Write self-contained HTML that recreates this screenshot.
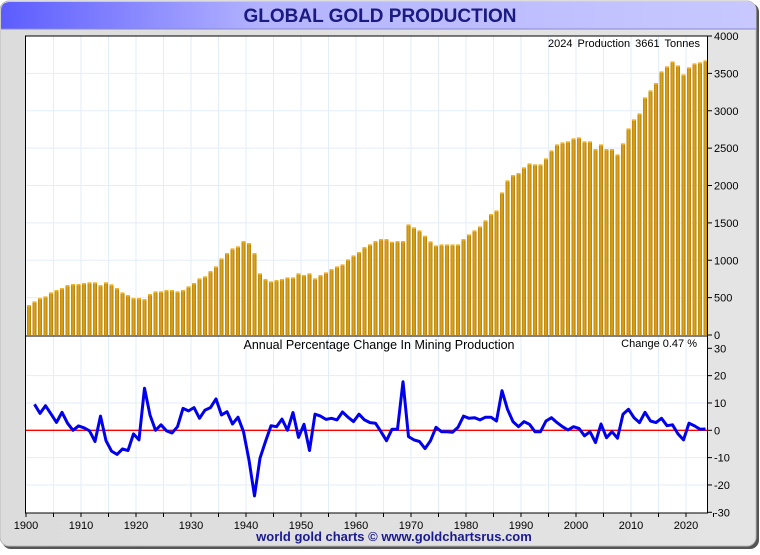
<!DOCTYPE html>
<html><head><meta charset="utf-8"><style>
body{margin:0;background:#fff;width:760px;height:550px;overflow:hidden;font-family:"Liberation Sans",sans-serif}
</style></head><body>
<svg id="chart" width="760" height="550" xmlns="http://www.w3.org/2000/svg" font-family="Liberation Sans, sans-serif">
<defs>
<linearGradient id="tg" x1="0" x2="1"><stop offset="0" stop-color="#5c5cff"/><stop offset="0.35" stop-color="#b4b4ff"/><stop offset="1" stop-color="#c8c8ff"/></linearGradient>
<linearGradient id="bg" x1="0" x2="1"><stop offset="0" stop-color="#dcdcdc"/><stop offset="1" stop-color="#e4e4e4"/></linearGradient>
<linearGradient id="bar" x1="0" x2="1"><stop offset="0" stop-color="#b88208"/><stop offset="0.5" stop-color="#e0a81c"/><stop offset="1" stop-color="#b07a06"/></linearGradient>
</defs>
<rect x="2" y="3" width="757" height="546" rx="9" fill="#555"/>
<rect x="0" y="1" width="756" height="545" rx="9" fill="url(#bg)" stroke="#bbb"/>
<path d="M1,29 L1,11 Q1,2 10,2 L747,2 Q756,2 756,11 L756,29 Z" fill="url(#tg)"/>
<line x1="1" y1="29" x2="756" y2="29" stroke="#8888cc"/>
<text x="380" y="22" text-anchor="middle" font-size="19" font-weight="bold" fill="#1a1a80">GLOBAL GOLD PRODUCTION</text>
<rect x="25.5" y="36" width="682" height="477" fill="#fff"/>
<g id="grid"></g>
<g id="bars"></g>
<g id="lines"></g>
<g id="axes"></g>
<rect x="25.5" y="36" width="682" height="477" fill="none" stroke="#000"/>
<line x1="25.5" y1="336" x2="707.5" y2="336" stroke="#000"/>
<text x="700" y="47" text-anchor="end" font-size="11" fill="#000" word-spacing="2">2024  Production  3661  Tonnes</text>
<text x="379" y="349" text-anchor="middle" font-size="12.5" fill="#000">Annual Percentage Change In Mining Production</text>
<text x="697" y="347" text-anchor="end" font-size="11" fill="#000">Change 0.47 %</text>
<text x="394" y="541" text-anchor="middle" font-size="13" font-weight="bold" fill="#1a1a90">world gold charts © www.goldchartsrus.com</text>
</svg>
<script>
const prodStartYear = 1901;
const production = [388,437,482,504,557,589,615,655,669,669,683,692,692,655,692,665,615,557,522,482,482,468,535,571,571,589,589,571,589,638,683,745,772,843,905,1012,1084,1146,1173,1245,1218,1084,812,736,705,723,736,758,758,812,790,812,745,790,825,870,905,932,999,1052,1097,1164,1200,1245,1271,1271,1235,1244,1244,1467,1427,1387,1315,1240,1186,1199,1199,1199,1199,1271,1333,1387,1440,1521,1605,1654,1895,2056,2127,2154,2230,2283,2270,2270,2350,2457,2537,2564,2578,2618,2631,2578,2578,2475,2537,2475,2475,2403,2551,2751,2872,2952,3166,3260,3358,3514,3581,3648,3594,3474,3568,3621,3635,3661];
const chgStartYear = 1902;
const change = [9.5,6.2,9,6,2.9,6.6,2.6,0,1.6,0.9,-0.2,-4.1,5.2,-3.8,-7.6,-8.8,-6.8,-7.4,-1.3,-3.5,15.4,5.6,0,2,-0.2,-1,1.3,8,7.1,8.3,4.4,7.4,8.3,11.5,5.6,6.8,2.3,4.8,-0.5,-10.9,-24,-10.2,-4.1,1.7,1.3,4.1,0,6.5,-2.6,2.2,-7.4,5.9,5.2,4,4.4,3.8,6.7,4.8,3.2,5.9,3.8,2.8,2.6,-0.5,-3.8,0.4,0.4,17.8,-2.3,-3.5,-4.1,-6.7,-3.8,1.1,-0.5,-0.5,-0.7,1.1,5.2,4.4,4.6,3.8,4.8,4.8,3.4,14.5,7.7,3.2,1.3,3.2,2.2,-0.5,-0.5,3.4,4.6,2.8,1.3,0.1,1.3,0.7,-2,-0.5,-4.5,2.3,-2.7,-0.5,-2.9,5.9,7.7,4.6,2.8,6.6,3.4,2.8,4.4,1.7,2,-1.3,-3.5,2.6,1.6,0.4,0.47];
const xTicks = [1900,1910,1920,1930,1940,1950,1960,1970,1980,1990,2000,2010,2020];
const prodTicks = [0,500,1000,1500,2000,2500,3000,3500,4000];
const chgTicks = [30,20,10,0,-10,-20,-30];

const NS="http://www.w3.org/2000/svg";
const xS = y => 26 + 5.5*(y-1900);
const xC = y => xS(y) - 2.5;
const yP = v => 335 - v*0.07475;
const yC = v => 430.3 - v*2.733;
function mk(parent,tag,attrs){const e=document.createElementNS(NS,tag);for(const k in attrs)e.setAttribute(k,attrs[k]);document.getElementById(parent).appendChild(e);return e;}

for(let y=1905;y<2025;y+=5){
  const g=mk('grid','line',{x1:xS(y),x2:xS(y),y1:36,y2:513,stroke:'#e3eef8'});
  
  
}
prodTicks.forEach(t=>{
  if(t===0||t===4000)return;
  const g=mk('grid','line',{x1:25.5,x2:707.5,y1:yP(t),y2:yP(t),stroke:'#e3eef8'});
  
  
});
chgTicks.forEach(t=>{
  if(t===30||t===-30||t===0)return;
  const g=mk('grid','line',{x1:25.5,x2:707.5,y1:yC(t),y2:yC(t),stroke:'#e3eef8'});
  
  
});

production.forEach((v,i)=>{
  const yr=prodStartYear+i, cx=xC(yr);
  const b=mk('bars','rect',{x:cx-2,y:yP(v),width:4,height:335-yP(v),fill:'url(#bar)'});
  
  
  mk('bars','rect',{x:cx-2,y:yP(v)-1,width:4,height:1.5,fill:'#f0b428'});
});

const z=mk('lines','line',{x1:25.5,x2:707.5,y1:yC(0),y2:yC(0),stroke:'#ff0000','stroke-width':1.3});


const pts=change.map((v,i)=>xC(chgStartYear+i).toFixed(1)+','+yC(v).toFixed(1)).join(' ');
const pl=mk('lines','polyline',{points:pts,fill:'none',stroke:'#0000ee','stroke-width':3,'stroke-linejoin':'round'});



for(let y=1900;y<=2025;y+=5){
  mk('axes','line',{x1:xS(y),x2:xS(y),y1:513,y2:517,stroke:'#000'});
}
xTicks.forEach(y=>{
  const t=mk('axes','text',{x:xS(y),y:529,'text-anchor':'middle','font-size':11,fill:'#000'});
  t.textContent=y;
  
  
});
prodTicks.forEach(v=>{
  mk('axes','line',{x1:707.5,x2:712,y1:yP(v),y2:yP(v),stroke:'#000'});
  const t=mk('axes','text',{x:714,y:yP(v)+4,'font-size':11,fill:'#000'});
  t.textContent=v;
  
  
});
chgTicks.forEach(v=>{
  mk('axes','line',{x1:707.5,x2:712,y1:yC(v),y2:yC(v),stroke:'#000'});
  const t=mk('axes','text',{x:714,y:yC(v)+4,'font-size':11,fill:'#000'});
  t.textContent=v;
  
  
});
</script>
</body></html>
